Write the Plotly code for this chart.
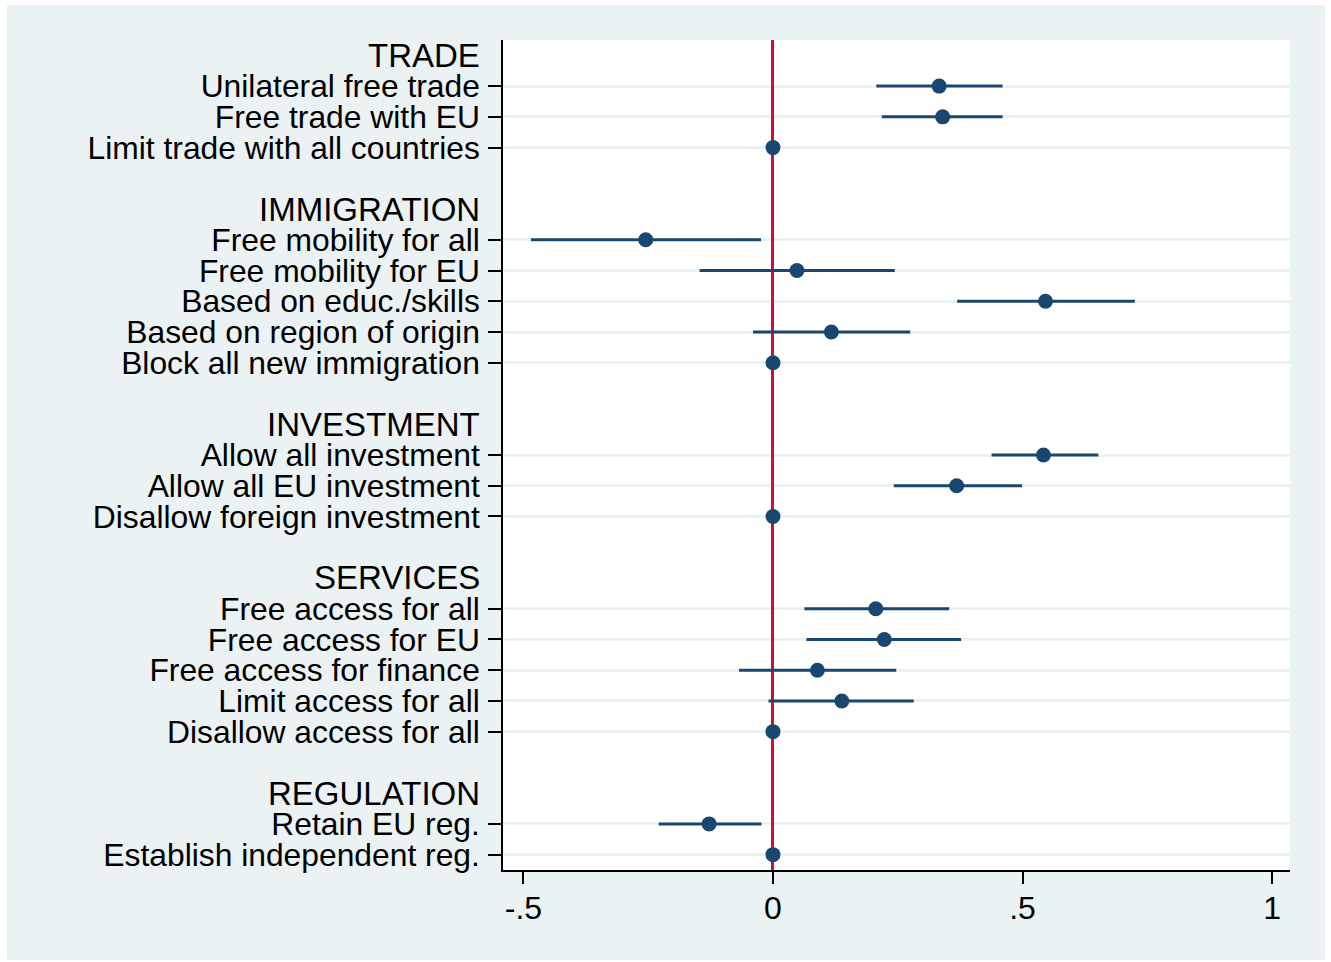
import plotly.graph_objects as go

# Coefficient estimates with 95% confidence intervals, grouped by policy area.
# Reference categories carry a coefficient of 0 and no interval.
group_names = ["TRADE", "IMMIGRATION", "INVESTMENT", "SERVICES", "REGULATION"]

trade_labels = ["Unilateral free trade", "Free trade with EU", "Limit trade with all countries"]
trade_coef = [0.333, 0.340, 0.0]
trade_lo = [0.207, 0.218, 0.0]
trade_hi = [0.460, 0.460, 0.0]

immigration_labels = ["Free mobility for all", "Free mobility for EU", "Based on educ./skills",
                      "Based on region of origin", "Block all new immigration"]
immigration_coef = [-0.255, 0.048, 0.546, 0.117, 0.0]
immigration_lo = [-0.485, -0.147, 0.369, -0.040, 0.0]
immigration_hi = [-0.024, 0.244, 0.725, 0.275, 0.0]

investment_labels = ["Allow all investment", "Allow all EU investment", "Disallow foreign investment"]
investment_coef = [0.542, 0.368, 0.0]
investment_lo = [0.438, 0.242, 0.0]
investment_hi = [0.652, 0.499, 0.0]

services_labels = ["Free access for all", "Free access for EU", "Free access for finance",
                   "Limit access for all", "Disallow access for all"]
services_coef = [0.206, 0.223, 0.089, 0.138, 0.0]
services_lo = [0.063, 0.067, -0.068, -0.009, 0.0]
services_hi = [0.353, 0.377, 0.247, 0.282, 0.0]

regulation_labels = ["Retain EU reg.", "Establish independent reg."]
regulation_coef = [-0.128, 0.0]
regulation_lo = [-0.229, 0.0]
regulation_hi = [-0.023, 0.0]

x_tick_vals = [-0.5, 0, 0.5, 1]
x_tick_text = ["-.5", "0", ".5", "1"]

groups = [
    (trade_labels, trade_coef, trade_lo, trade_hi),
    (immigration_labels, immigration_coef, immigration_lo, immigration_hi),
    (investment_labels, investment_coef, investment_lo, investment_hi),
    (services_labels, services_coef, services_lo, services_hi),
    (regulation_labels, regulation_coef, regulation_lo, regulation_hi),
]

# Stack rows: heading, its items, then one empty row before the next heading.
header_rows, item_rows = [], []
labels, coef, err_plus, err_minus = [], [], [], []
row = -1
for name, (lab, c, lo, hi) in zip(group_names, groups):
    header_rows.append(row)
    row += 1
    for l_, c_, lo_, hi_ in zip(lab, c, lo, hi):
        item_rows.append(row)
        labels.append(l_)
        coef.append(c_)
        err_plus.append(hi_ - c_)
        err_minus.append(c_ - lo_)
        row += 1
    row += 1

NAVY = "#1A476F"
FONT = "Liberation Sans, Arial, sans-serif"
BG = "#EAF2F3"

fig = go.Figure()
fig.add_trace(go.Scatter(
    x=coef, y=item_rows, mode="markers",
    marker=dict(color=NAVY, size=15, symbol="circle", line=dict(width=0)),
    error_x=dict(type="data", symmetric=False, array=err_plus, arrayminus=err_minus,
                 color=NAVY, thickness=3, width=0),
    showlegend=False, hoverinfo="skip",
))

W, H = 1331, 962
ML, MR, MT, MB = 503, 41, 40, 92
pw, ph = W - ML - MR, H - MT - MB

def px_x(p):
    return (p - ML) / pw

def px_y(p):
    return (H - MB - p) / ph

# Group headings, right-aligned with the tick labels
for name, r in zip(group_names, header_rows):
    fig.add_annotation(text=name, x=px_x(482), xref="paper", xanchor="right",
                       y=r, yref="y", yanchor="middle", showarrow=False,
                       font=dict(family=FONT, size=33, color="black"))

# Thin white frame around the graph region
white_strips = [
    (px_x(0), px_x(W), px_y(5), px_y(0)),
    (px_x(0), px_x(W), px_y(H), px_y(960)),
    (px_x(0), px_x(7), px_y(H), px_y(0)),
    (px_x(1325), px_x(W), px_y(H), px_y(0)),
]
for x0, x1, y0, y1 in white_strips:
    fig.add_shape(type="rect", xref="paper", yref="paper", x0=x0, x1=x1, y0=y0, y1=y1,
                  fillcolor="white", line=dict(width=0), layer="above")

fig.update_layout(
    width=W, height=H,
    margin=dict(l=ML, r=MR, t=MT, b=MB, pad=0),
    paper_bgcolor=BG, plot_bgcolor="white",
    font=dict(family=FONT, color="black"),
    xaxis=dict(range=[-0.541, 1.036], tickvals=x_tick_vals, ticktext=x_tick_text,
               showgrid=False, zeroline=True, zerolinecolor="#CC1036", zerolinewidth=3,
               showline=True, linecolor="black", linewidth=1.5,
               ticks="outside", ticklen=12, tickwidth=1.5, tickcolor="black",
               ticklabelstandoff=-3,
               tickfont=dict(family=FONT, size=32, color="black"), automargin=False),
    yaxis=dict(range=[25.5, -1.5], tickvals=item_rows, ticktext=labels,
               showgrid=True, gridcolor=BG, gridwidth=2.5, zeroline=False,
               showline=True, linecolor="black", linewidth=1.5,
               ticks="outside", ticklen=13, tickwidth=1.5, tickcolor="black",
               ticklabelstandoff=2,
               tickfont=dict(family=FONT, size=31.8, color="black"), automargin=False),
)

fig.write_html("out.html")
